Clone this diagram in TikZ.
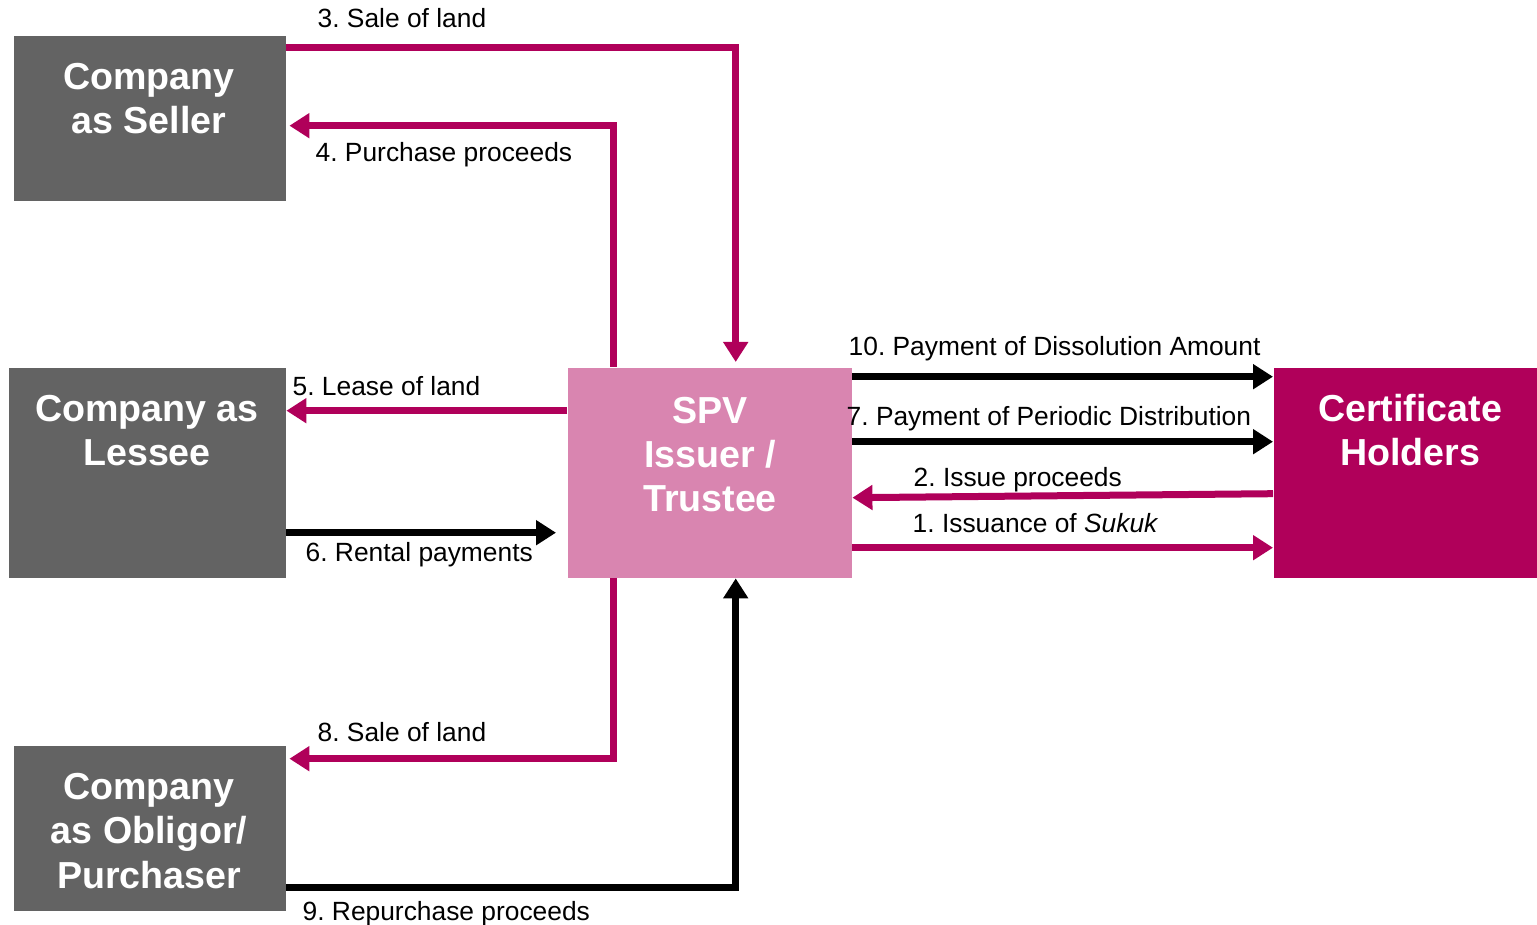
\documentclass[tikz,border=0pt]{standalone}
\usepackage{fontspec}
\setmainfont{Liberation Sans}
\usetikzlibrary{arrows.meta}
\definecolor{boxgray}{HTML}{636363}
\definecolor{spvpink}{HTML}{D985B0}
\definecolor{sukukred}{HTML}{B0005A}
\frenchspacing

\begin{document}
\begin{tikzpicture}[
  party/.style={rectangle, fill=#1, anchor=north west, inner sep=0pt},
  boxtxt/.style={text=white, font=\fontsize{10.7pt}{12.6pt}\selectfont\bfseries, align=center, anchor=base, inner sep=0pt},
  lbl/.style={font=\fontsize{7.5pt}{9pt}\selectfont, anchor=base west, inner sep=0pt},
  flow/.style={line width=0.07cm, -{Triangle[length=0.2cm,width=0.24cm]}, draw=#1}]
\useasboundingbox (0,0) rectangle (15.37,-9.25);

% the parties
\node[party=boxgray, minimum width=2.72cm, minimum height=1.65cm] (seller) at (0.13,-0.35) {};
\node[party=boxgray, minimum width=2.77cm, minimum height=2.10cm] (lessee) at (0.08,-3.67) {};
\node[party=boxgray, minimum width=2.72cm, minimum height=1.65cm] (obligor) at (0.13,-7.45) {};
\node[party=spvpink, minimum width=2.84cm, minimum height=2.10cm] (spv) at (5.67,-3.67) {};
\node[party=sukukred, minimum width=2.64cm, minimum height=2.10cm] (holders) at (12.73,-3.67) {};

% base sits on the last line
\node[boxtxt] (tseller) at (1.49,-1.34) {Company\\as Seller};
\node[boxtxt] (tlessee) at (1.47,-4.66) {Company as\\Lessee};
\node[boxtxt] (tobligor) at (1.49,-8.88) {Company\\as Obligor/\\Purchaser};
\node[boxtxt] (tspv) at (7.10,-5.12) {SPV\\Issuer /\\Trustee};
\node[boxtxt] (tholders) at (14.10,-4.66) {Certificate\\Holders};

% land and money flows
\draw[flow=sukukred] ([yshift=-0.13cm]seller.north east) -| ([xshift=0.26cm,yshift=0.05cm]spv.north);
\draw[flow=sukukred] ([xshift=-0.96cm]spv.north) |- ([xshift=0.03cm,yshift=-0.075cm]seller.east);
\draw[flow=sukukred] ([yshift=0.62cm]spv.west) -- ([yshift=0.62cm]lessee.east);
\draw[flow=black] ([yshift=-0.60cm]lessee.east) -- ([xshift=-0.11cm,yshift=-0.60cm]spv.west);
\draw[flow=sukukred] ([xshift=-0.96cm]spv.south) |- ([xshift=0.03cm,yshift=0.695cm]obligor.east);
\draw[flow=black] ([yshift=-0.595cm]obligor.east) -| ([xshift=0.26cm]spv.south);

\draw[flow=black] ([yshift=0.96cm]spv.east) -- ([yshift=0.96cm]holders.west);
\draw[flow=black] ([yshift=0.31cm]spv.east) -- ([yshift=0.31cm]holders.west);
\draw[flow=sukukred] ([yshift=-0.21cm]holders.west) -- ([yshift=-0.25cm]spv.east);
\draw[flow=sukukred] ([yshift=-0.75cm]spv.east) -- ([yshift=-0.75cm]holders.west);

% labels
\node[lbl] (l3) at (3.17,-0.28) {3. Sale of land};
\node[lbl] (l4) at (3.15,-1.62) {4. Purchase proceeds};
\node[lbl] (l5) at (2.92,-3.96) {5. Lease of land};
\node[lbl] (l6) at (3.05,-5.62) {6. Rental payments};
\node[lbl] (l8) at (3.17,-7.41) {8. Sale of land};
\node[lbl] (l9) at (3.02,-9.20) {9. Repurchase proceeds};
\node[lbl] (l10) at (8.48,-3.56) {10. Payment of Dissolution Amount};
\node[lbl] (l7) at (8.46,-4.26) {7. Payment of Periodic Distribution};
\node[lbl] (l2) at (9.13,-4.87) {2. Issue proceeds};
\node[lbl] (l1) at (9.12,-5.33) {1. Issuance of \textit{Sukuk}};
\end{tikzpicture}
\end{document}
